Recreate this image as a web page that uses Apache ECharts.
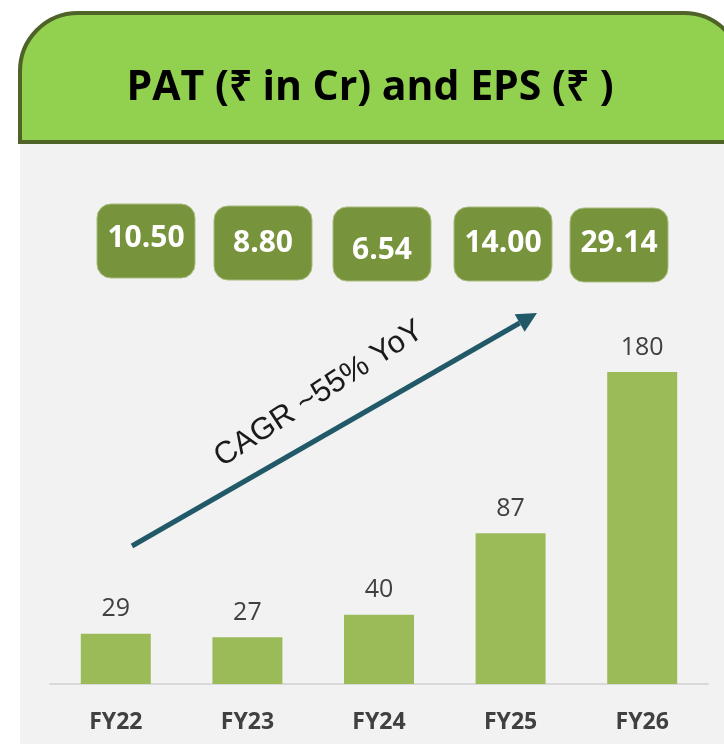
<!DOCTYPE html>
<html>
<head>
<meta charset="utf-8">
<title>PAT and EPS</title>
<script src="https://cdn.jsdelivr.net/npm/echarts@6/dist/echarts.min.js"></script>
<style>
    html, body { margin: 0; padding: 0; background: #ffffff; }
    #chart { width: 724px; height: 744px; }
</style>
</head>
<body>
<div id="chart"></div>
<script>
// data
const years = ['FY22', 'FY23', 'FY24', 'FY25', 'FY26'];
const pat = [29, 27, 40, 87, 180];
const eps = ['10.50', '8.80', '6.54', '14.00', '29.14'];
const titleText = 'PAT (₹ in Cr) and EPS (₹ )';
const cagrText = 'CAGR ~55% YoY';

// layout of the EPS boxes (they are not quite in line on the slide)
const boxLeft = [97, 214, 333, 454, 570];
const boxTop = [204, 206, 207, 207, 208];
const boxTextDy = [-3, 0, 6, -1, -2];
const boxW = 98;
const boxH = 74;

const arrowFrom = [132, 546];
const arrowTo = [537, 313];

function arrowGraphics() {
    const dx = arrowTo[0] - arrowFrom[0];
    const dy = arrowTo[1] - arrowFrom[1];
    const len = Math.sqrt(dx * dx + dy * dy);
    const ux = dx / len, uy = dy / len;
    const head = 20, half = 10;
    const bx = arrowTo[0] - ux * head;
    const by = arrowTo[1] - uy * head;
    return [
        {
            type: 'line',
            shape: { x1: arrowFrom[0], y1: arrowFrom[1], x2: bx, y2: by },
            style: { stroke: '#215968', lineWidth: 5 }
        },
        {
            type: 'polygon',
            shape: {
                points: [
                    [arrowTo[0], arrowTo[1]],
                    [bx - uy * half, by + ux * half],
                    [bx + uy * half, by - ux * half]
                ]
            },
            style: { fill: '#215968' }
        }
    ];
}

function epsGraphics() {
    let items = [];
    eps.forEach((v, i) => {
        items.push({
            type: 'rect',
            shape: { x: boxLeft[i], y: boxTop[i], width: boxW, height: boxH, r: 14 },
            style: { fill: '#77933c', stroke: '#a9bd7e', lineWidth: 1 }
        });
        items.push({
            type: 'text',
            x: boxLeft[i] + boxW / 2,
            y: boxTop[i] + boxH / 2 + boxTextDy[i],
            style: {
                text: v,
                fill: '#ffffff',
                fontFamily: 'Open Sans',
                fontWeight: 'bold',
                fontSize: 30,
                textAlign: 'center',
                textVerticalAlign: 'middle'
            }
        });
    });
    return items;
}

const chart = echarts.init(document.getElementById('chart'));

const option = {
    animation: false,
    backgroundColor: '#ffffff',
    grid: { left: 50, right: 16, top: 372, bottom: 60 },
    xAxis: {
        type: 'category',
        data: years,
        axisLine: { lineStyle: { color: '#d9d9d9', width: 2 } },
        axisTick: { show: false },
        axisLabel: {
            margin: 27,
            color: '#404040',
            fontFamily: 'Open Sans',
            fontWeight: 'bold',
            fontSize: 23
        }
    },
    yAxis: {
        type: 'value',
        min: 0,
        max: 180,
        show: false
    },
    series: [
        {
            type: 'bar',
            data: pat,
            barWidth: 70,
            itemStyle: { color: '#9bbb59' },
            label: {
                show: true,
                position: 'top',
                distance: 12,
                color: '#404040',
                fontFamily: 'Open Sans',
                fontSize: 25
            }
        }
    ],
    graphic: [
        // grey panel
        {
            type: 'rect',
            z: -10,
            shape: { x: 20, y: 142, width: 710, height: 610 },
            style: { fill: '#f2f2f2' }
        },
        // green heading tab
        {
            type: 'rect',
            z: -5,
            shape: { x: 20, y: 13, width: 722, height: 129, r: [58, 58, 0, 0] },
            style: { fill: '#92d050', stroke: '#4f6228', lineWidth: 4 }
        },
        {
            type: 'text',
            x: 370,
            y: 88,
            style: {
                text: titleText,
                fill: '#000000',
                fontFamily: 'Open Sans',
                fontWeight: 'bold',
                fontSize: 41,
                textAlign: 'center',
                textVerticalAlign: 'middle'
            }
        },
        {
            type: 'text',
            x: 319,
            y: 394,
            rotation: 33 * Math.PI / 180,
            style: {
                text: cagrText,
                fill: '#1a1a1a',
                fontFamily: '"Liberation Sans", Arial, sans-serif',
                fontSize: 31,
                textAlign: 'center',
                textVerticalAlign: 'middle'
            }
        }
    ].concat(arrowGraphics(), epsGraphics())
};

chart.setOption(option);
</script>
</body>
</html>
